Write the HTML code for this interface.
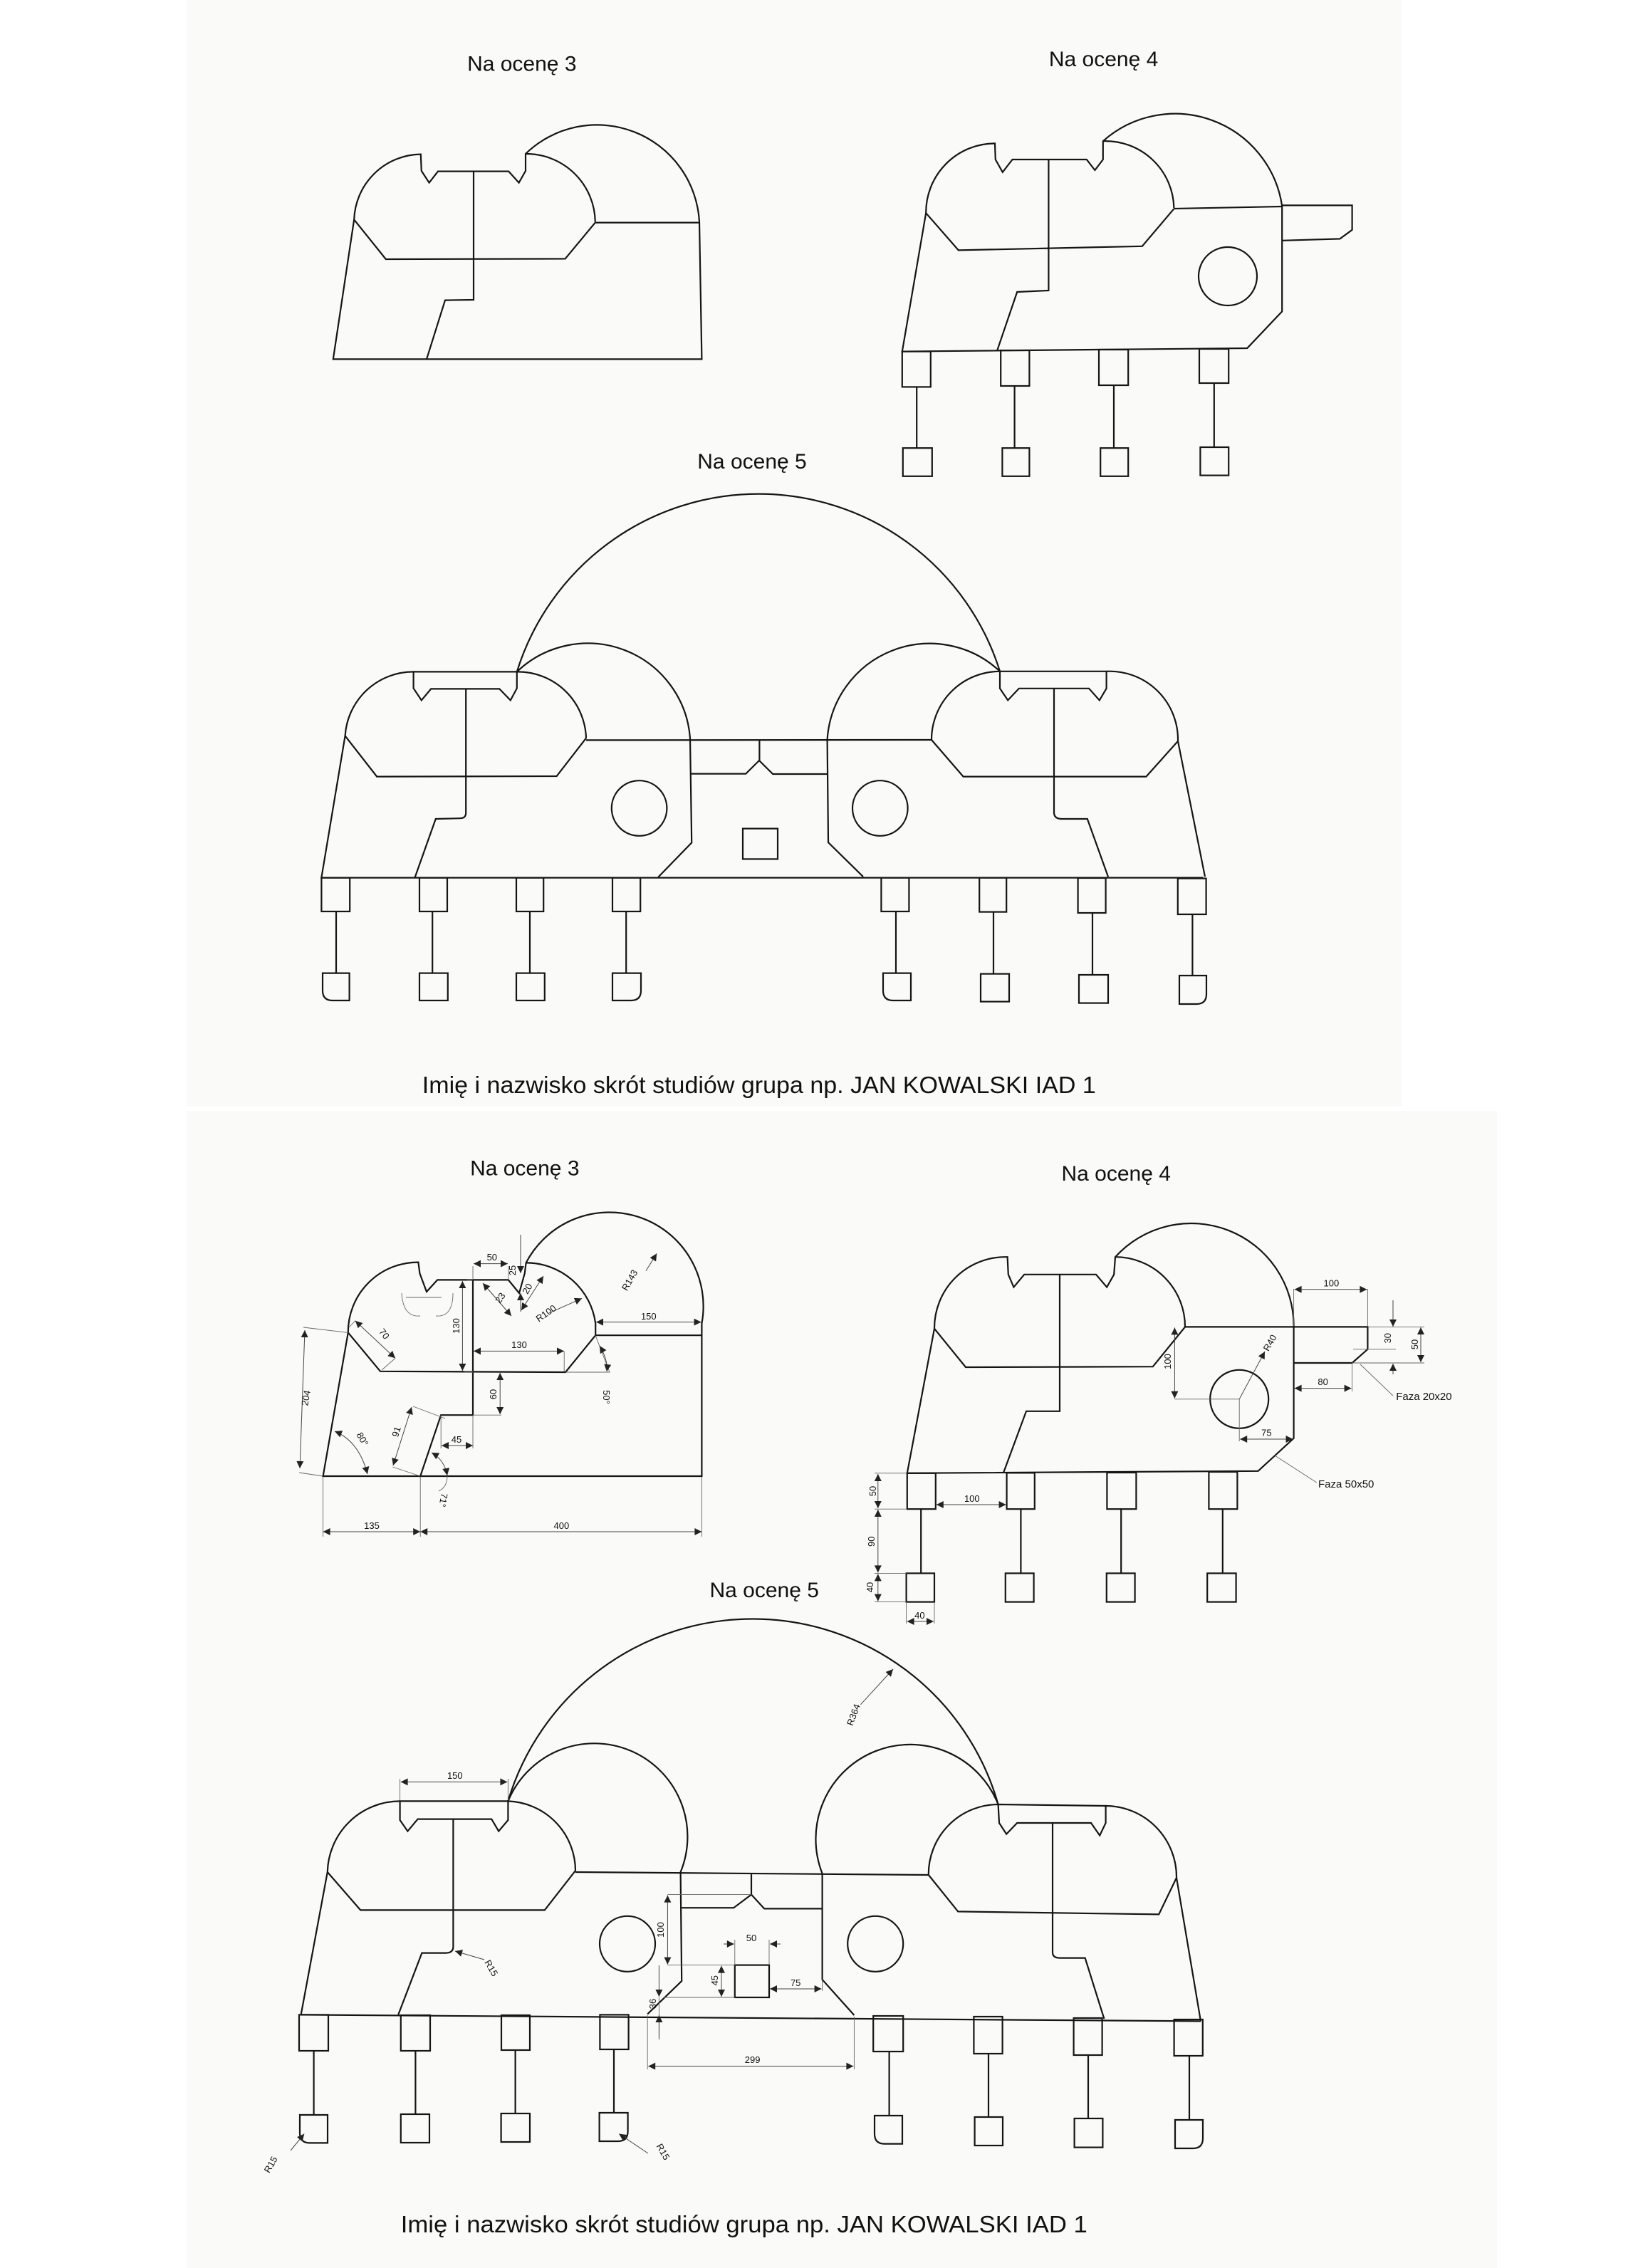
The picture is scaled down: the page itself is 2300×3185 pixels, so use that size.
<!DOCTYPE html>
<html><head><meta charset="utf-8"><style>
html,body{margin:0;padding:0;background:#fff;}
svg{display:block;}
text{font-family:"Liberation Sans",Arial,sans-serif;fill:#111;}
.m{fill:none;stroke:#151515;stroke-width:1.1;stroke-linejoin:miter;}
.d{fill:none;stroke:#666;stroke-width:0.45;}
.da{fill:none;stroke:#444;stroke-width:0.5;marker-start:url(#ar);marker-end:url(#ar);}
.dl{fill:none;stroke:#444;stroke-width:0.5;marker-end:url(#ar);}
.t{font-size:6.5px;}
.ti{font-size:15px;}
</style></head><body>
<svg width="2300" height="3185" viewBox="0 0 1150 1592.5" xmlns="http://www.w3.org/2000/svg">
<defs>
<marker id="ar" viewBox="0 0 10 10" refX="10" refY="5" markerWidth="7" markerHeight="5" markerUnits="userSpaceOnUse" orient="auto-start-reverse"><path d="M0,0 L10,5 L0,10 z" fill="#222"/></marker>
</defs>
<rect x="0" y="0" width="1150" height="1592.5" fill="#fff"/>
<rect x="131" y="0" width="853" height="777" fill="#fafaf9"/>
<rect x="131" y="780" width="920" height="812.5" fill="#fafaf9"/>

<!-- ===== TOP: Na ocenę 3 ===== -->
<text class="ti" x="366.4" y="49.7" text-anchor="middle">Na ocenę 3</text>
<path class="m" d="M233.9,252.2 L492.7,252.2 L491,155.8 A72,72 0 0 0 369,108 L369,120 L364.3,128.3 L357.1,120.3 L307.5,120.3 L301.3,128.3 L295.9,120 L295.4,108.3 A47.5,47.5 0 0 0 248.6,154.2 Z"/>
<path class="m" d="M369,108 A48.5,48.5 0 0 1 417.9,155.8 M417.9,156.3 L491,156.3 M248.6,154.2 L270.9,182 L396.8,181.7 L417.9,156.3 M332.5,120.3 L332.5,210.5 L312.5,210.8 L299.5,252.2"/>

<!-- ===== TOP: Na ocenę 4 ===== -->
<text class="ti" x="774.8" y="46.4" text-anchor="middle">Na ocenę 4</text>
<path class="m" d="M633.4,246.8 L875.6,244.5 L900.1,218.7 L900.1,144.6 A76,76 0 0 0 774.4,99.1 L774.4,112 L768.7,119.5 L762.9,112 L710.8,112 L703.9,120.9 L698.9,112 L698.5,100.7 A48.5,48.5 0 0 0 650.1,149.6 Z"/>
<path class="m" d="M900.1,144.2 L949.3,144.2 L949.3,161.4 L940.7,167.7 L900.1,168.9 M774.4,99.1 A48,48 0 0 1 824.2,146 M824.2,146.5 L900.1,145 M650.1,149.6 L672.9,175.7 L801.9,172.9 L824.2,146.6 M736.2,112 L736.2,204 L714.1,205 L700,246.4"/>
<circle class="m" cx="862" cy="194" r="20.5"/>
<g class="m">
<rect x="633.4" y="246.8" width="20" height="24.9"/><line x1="643.6" y1="271.7" x2="643.6" y2="314.6"/><rect x="633.9" y="314.6" width="20.5" height="19.8"/>
<rect x="702.6" y="246" width="20.1" height="25"/><line x1="712.3" y1="271" x2="712.3" y2="314.6"/><rect x="703.7" y="314.6" width="19" height="19.8"/>
<rect x="771.5" y="245.5" width="20.6" height="25"/><line x1="782" y1="270.5" x2="782" y2="314.6"/><rect x="772.6" y="314.6" width="19.5" height="19.8"/>
<rect x="842" y="245" width="20.6" height="24"/><line x1="852.4" y1="269" x2="852.4" y2="314"/><rect x="842.7" y="314" width="19.9" height="19.8"/>
</g>

<!-- ===== TOP: Na ocenę 5 ===== -->
<text class="ti" x="528" y="329" text-anchor="middle">Na ocenę 5</text>
<g class="m">
<path d="M225.7,616.3 L844.7,616.3"/>
<path d="M362.9,471.7 A177.6,177.6 0 0 1 702,471.4"/>
<path d="M225.6,616.7 L242.3,516.7 A48,48 0 0 1 290.3,471.7"/>
<path d="M290.3,471.7 L362.9,471.7 L362.9,483.3 L358.4,491.7 L350.6,483.7 L302.6,483.7 L295.9,491.7 L290.3,483.3 Z"/>
<path d="M362.9,471.7 A48,48 0 0 1 411.5,518.3"/>
<path d="M242.3,516.7 L264.6,545.3 L390.8,545 L411.5,518.3"/>
<path d="M362.9,471.7 A72,72 0 0 1 484.5,518.3 L485.6,591.7 L462.2,615.8"/>
<path d="M327.1,483.7 L327.1,570.8 Q327.1,574.6 322.7,574.6 L305.9,575 L291.4,615.8"/>
<path d="M411.5,519.7 L654,519.5 M484.5,543.3 L523.6,543.3 L533,534 L542.6,543.5 L580.8,543.5 M533.2,519.7 L533.2,534"/>
<path d="M580.8,519.5 A72,72 0 0 1 702,471.4 M580.8,519.5 L581.5,591.5 L606,615.6"/>
<path d="M702,471.4 L776.8,471.4 L776.8,483.4 L771.9,491.7 L764.5,483.4 L715.4,483.4 L707.6,491.7 L702,483.4 Z"/>
<path d="M776.8,471.4 A48,48 0 0 1 827,520.4 L846,615.6"/>
<path d="M702,471.4 A48,48 0 0 0 654,519.5"/>
<path d="M654,519.5 L676.3,545.3 L804.7,545.3 L827,520.4"/>
<path d="M740,483.4 L740,570.4 Q740,575 745.5,575 L763.4,575 L778,615.6"/>
<circle cx="448.8" cy="567.5" r="19.4"/><circle cx="617.9" cy="567.5" r="19.4"/>
<rect x="521.5" y="581.8" width="24.5" height="21.4"/>
<rect x="225.7" y="616.3" width="19.9" height="23.7"/><line x1="236" y1="640" x2="236" y2="683.3"/><path d="M226.5,683.3 L245.3,683.3 L245.3,702.5 L233.5,702.5 Q226.5,702.5 226.5,695.5 Z"/>
<rect x="294.5" y="616.3" width="19.5" height="23.7"/><line x1="303.6" y1="640" x2="303.6" y2="683.3"/><rect x="294.5" y="683.3" width="19.9" height="19.2"/>
<rect x="362.5" y="616.3" width="19.1" height="23.7"/><line x1="372" y1="640" x2="372" y2="683.3"/><rect x="362.5" y="683.3" width="19.9" height="19.2"/>
<rect x="430" y="616.3" width="19.6" height="23.7"/><line x1="439.6" y1="640" x2="439.6" y2="683.3"/><path d="M430,683.3 L450,683.3 L450,695.5 Q450,702.5 443,702.5 L430,702.5 Z"/>
<rect x="618.7" y="616.3" width="19.5" height="23.7"/><line x1="629" y1="640" x2="629" y2="683.3"/><path d="M620,683.3 L639.5,683.3 L639.5,702.5 L627,702.5 Q620,702.5 620,695.5 Z"/>
<rect x="687.6" y="616.3" width="19" height="24"/><line x1="697.5" y1="640.3" x2="697.5" y2="683.8"/><rect x="688.5" y="683.8" width="20" height="19.5"/>
<rect x="756.8" y="616.5" width="19.5" height="24.5"/><line x1="767" y1="641" x2="767" y2="684.5"/><rect x="757.5" y="684.5" width="20.5" height="19.8"/>
<rect x="826.9" y="616.8" width="19.9" height="25.2"/><line x1="837.2" y1="642" x2="837.2" y2="685"/><path d="M828,685 L847,685 L847,698 Q847,705 840,705 L828,705 Z"/>
</g>
<text x="296.4" y="767.5" font-size="16.5" textLength="473" lengthAdjust="spacingAndGlyphs">Imię i nazwisko skrót studiów grupa np. JAN KOWALSKI IAD 1</text>

<!-- ===== BOTTOM: Na ocenę 3 (dims) ===== -->
<text class="ti" x="368.4" y="825.3" text-anchor="middle">Na ocenę 3</text>
<path class="m" d="M226.8,1036.5 L492.7,1036.5 L492.7,929.3 A66,66 0 0 0 369.3,886.7 L368.4,894 L364.5,908 L356.9,898.7 L307.1,898.7 L299.5,907 L294.7,894.1 L293.7,886.3 A49,49 0 0 0 244.4,935.7 Z"/>
<path class="m" d="M369.3,886.7 A49,49 0 0 1 418.1,929.3 L418.1,937.6 M418.1,937.6 L492.7,937.6 M244.4,935.7 L267,962.9 L397,963.5 L418.1,937.6 M332,898.7 L332,993.6 L309.6,993.6 L295.1,1036.5"/>
<g>
<path class="d" d="M226.8,1037 L226.8,1079 M295.1,1037 L295.1,1079 M492.7,1037 L492.7,1079"/>
<path class="da" d="M226.8,1075.5 L295.1,1075.5"/><path class="da" d="M295.1,1075.5 L492.7,1075.5"/>
<text class="t" x="261" y="1073.5" text-anchor="middle">135</text>
<text class="t" x="394.2" y="1073.5" text-anchor="middle">400</text>
<path class="d" d="M226.8,1036.5 L210,1034 M244.4,935.7 L213,932"/>
<path class="da" d="M214,934 L210.5,1031"/>
<text class="t" transform="translate(217,982) rotate(-80)" text-anchor="middle">204</text>
<path class="da" d="M249.4,927.4 L277.5,953.7"/>
<path class="d" d="M249.4,927.4 L245,932 M277.5,953.7 L268,962"/>
<text class="t" transform="translate(268,938) rotate(52)" text-anchor="middle">70</text>
<path class="d" d="M332,898.7 L328,898.7 M332,963 L326,963"/>
<path class="da" d="M324.7,899.5 L324.7,962.5"/>
<text class="t" transform="translate(322.4,931) rotate(-90)" text-anchor="middle">130</text>
<path class="da" d="M332.5,948.7 L396,948.7"/>
<path class="d" d="M396.1,948.7 L396.1,963"/>
<text class="t" x="364.5" y="946.5" text-anchor="middle">130</text>
<path class="d" d="M332,993.6 L352,993.6"/>
<path class="da" d="M351.1,964 L351.1,993"/>
<text class="t" transform="translate(348.5,979) rotate(-90)" text-anchor="middle">60</text>
<path class="d" d="M309.6,993.6 L309.6,1017 M332,993.6 L332,1017"/>
<path class="da" d="M310,1015 L332,1015"/>
<text class="t" x="320.5" y="1013" text-anchor="middle">45</text>
<path class="d" d="M290,987.5 L312.5,996 M275.6,1030 L295.1,1036.5"/>
<path class="da" d="M289,988 L276,1029"/>
<text class="t" transform="translate(280.4,1006) rotate(-72)" text-anchor="middle">91</text>
<path class="da" d="M235,1005 Q252,1012 258,1035"/>
<text class="t" transform="translate(252.6,1011.6) rotate(60)" text-anchor="middle">80°</text>
<path class="da" d="M303,1020 Q312,1025 314,1036"/>
<path class="d" d="M314,1036.5 Q314,1044 308,1047"/>
<text class="t" transform="translate(309,1053) rotate(100)" text-anchor="middle">71°</text>
<path class="d" d="M418,937.6 L428,963.5 L397,963.5"/>
<path class="da" d="M421,945 Q427,955 426,963"/>
<text class="t" transform="translate(423.5,981) rotate(90)" text-anchor="middle">50°</text>
<path class="d" d="M332,889 L332,898 M356.9,889 L356.9,898"/>
<path class="da" d="M332.5,887.3 L356.5,887.3"/>
<text class="t" x="345.4" y="885" text-anchor="middle">50</text>
<path class="dl" d="M365.5,867 L365.5,894"/>
<path class="dl" d="M365.5,921 L365.5,908"/>
<text class="t" transform="translate(362,892) rotate(-90)" text-anchor="middle">25</text>
<path class="da" d="M339,901 L359,924"/>
<text class="t" transform="translate(353,912.6) rotate(-55)" text-anchor="middle">23</text>
<path class="da" d="M381.5,896 L366,920"/>
<text class="t" transform="translate(372.2,906) rotate(-60)" text-anchor="middle">20</text>
<path class="dl" d="M385.6,921.9 L408.5,911.7"/>
<text class="t" transform="translate(384.6,924) rotate(-35)" text-anchor="middle">R100</text>
<path class="dl" d="M453.5,892.3 L461.1,880.2"/>
<text class="t" transform="translate(444,900) rotate(-60)" text-anchor="middle">R143</text>
<path class="da" d="M418.5,928.3 L492.3,928.3"/>
<text class="t" x="455.4" y="926.5" text-anchor="middle">150</text>
<path class="d" d="M285,911 L310,911 M282,908 Q283,925 295,924 M318,908 Q318,925 306,924"/>
</g>

<!-- ===== BOTTOM: Na ocenę 4 (dims) ===== -->
<text class="ti" x="783.6" y="829" text-anchor="middle">Na ocenę 4</text>
<path class="m" d="M636.9,1034.4 L883.3,1032.9 L908.3,1009.9 L908.3,931.7 A72,72 0 0 0 783,882.6 L782.1,894.9 L777.1,903.8 L769.5,894.9 L719.1,894.9 L711.7,903.8 L707.9,894.9 L707.3,882.6 A50,50 0 0 0 656,932.9 Z"/>
<path class="m" d="M908.3,931.7 L960.2,931.7 L960.2,947.4 L949.3,957 L908.3,957 M832,931.7 L908.3,931.7 M783,882.6 A49,49 0 0 1 832,931.7 M656,932.9 L678,960 L809.4,959.6 L832,931.7 M744,894.9 L744,990.9 L720.5,990.9 L704.4,1034.4"/>
<circle class="m" cx="870.1" cy="982.4" r="20.5"/>
<g class="m">
<rect x="636.9" y="1034.4" width="20" height="25.2"/><line x1="646.6" y1="1059.6" x2="646.6" y2="1104.7"/><rect x="636.3" y="1104.7" width="19.7" height="20.1"/>
<rect x="706.8" y="1034.2" width="19.6" height="25.4"/><line x1="716.7" y1="1059.6" x2="716.7" y2="1104.7"/><rect x="705.9" y="1104.7" width="19.9" height="20.1"/>
<rect x="777.2" y="1034" width="20.5" height="25.6"/><line x1="787.1" y1="1059.6" x2="787.1" y2="1104.7"/><rect x="776.9" y="1104.7" width="19.9" height="20.1"/>
<rect x="848.7" y="1033.5" width="20" height="26.1"/><line x1="858.4" y1="1059.6" x2="858.4" y2="1104.7"/><rect x="847.6" y="1104.7" width="20.2" height="20.1"/>
</g>
<g>
<path class="d" d="M960.2,905 L960.2,931 M908.3,905 L908.3,931"/>
<path class="da" d="M908.8,905.4 L959.7,905.4"/>
<text class="t" x="934.7" y="903.2" text-anchor="middle">100</text>
<path class="d" d="M960.2,931.7 L1000,931.7 M950,947.4 L980,947.4 M949,957 L1000,957"/>
<path class="dl" d="M978,913 L978,931.5"/><path class="dl" d="M978,965 L978,957.5"/>
<text class="t" transform="translate(976.5,939.6) rotate(-90)" text-anchor="middle">30</text>
<path class="da" d="M997.5,932 L997.5,956.5"/>
<text class="t" transform="translate(995.5,944) rotate(-90)" text-anchor="middle">50</text>
<path class="d" d="M955,958 L978,980"/>
<text x="980.1" y="983" font-size="7.5">Faza 20x20</text>
<path class="d" d="M949.3,957 L949.3,977"/>
<path class="da" d="M908.8,974.8 L948.8,974.8"/>
<text class="t" x="928.8" y="972.5" text-anchor="middle">80</text>
<path class="dl" d="M870.1,982.4 L888,949"/>
<text class="t" transform="translate(893.5,944) rotate(-60)" text-anchor="middle">R40</text>
<path class="d" d="M824.7,982.4 L870.1,982.4 L870.1,1012"/>
<path class="da" d="M824.7,932.2 L824.7,981.9"/>
<text class="t" transform="translate(822,956) rotate(-90)" text-anchor="middle">100</text>
<path class="da" d="M870.6,1010.5 L907.8,1010.5"/>
<text class="t" x="889.2" y="1008.3" text-anchor="middle">75</text>
<path class="d" d="M895,1022 L924.4,1041"/>
<text x="925.5" y="1044.5" font-size="7.5">Faza 50x50</text>
<path class="d" d="M614,1034.4 L636.9,1034.4 M614,1059.6 L636.9,1059.6 M614,1104.7 L636.3,1104.7 M614,1124.8 L636.3,1124.8 M636.3,1124.8 L636.3,1140 M656,1124.8 L656,1140"/>
<path class="da" d="M616.4,1035 L616.4,1059"/><path class="da" d="M616.4,1060 L616.4,1104.2"/><path class="da" d="M616.4,1105.2 L616.4,1124.3"/>
<text class="t" transform="translate(615,1047) rotate(-90)" text-anchor="middle">50</text>
<text class="t" transform="translate(614,1082.4) rotate(-90)" text-anchor="middle">90</text>
<text class="t" transform="translate(613,1114.5) rotate(-90)" text-anchor="middle">40</text>
<path class="da" d="M657.4,1056.5 L706.3,1056.5"/>
<text class="t" x="682.4" y="1054.5" text-anchor="middle">100</text>
<path class="da" d="M636.8,1138.5 L655.5,1138.5"/>
<text class="t" x="645.7" y="1136.5" text-anchor="middle">40</text>
</g>

<!-- ===== BOTTOM: Na ocenę 5 (dims) ===== -->
<text class="ti" x="536.6" y="1121.4" text-anchor="middle">Na ocenę 5</text>
<g class="m">
<path d="M211.3,1414.7 L843,1419.2"/>
<path d="M356.7,1264.7 A179.2,179.2 0 0 1 700.8,1267"/>
<path d="M211.3,1414.7 L229.9,1314.5 A51,51 0 0 1 280.8,1264.7"/>
<path d="M280.8,1264.7 L356.7,1264.7 L356.7,1278 L350.1,1285.8 L345.1,1277.3 L293.3,1277.3 L286.2,1285.8 L280.8,1278 Z"/>
<path d="M356.7,1264.7 A49,49 0 0 1 404,1313.5"/>
<path d="M229.9,1314.5 L253.1,1341.2 L382.4,1341.2 L404,1313.5"/>
<path d="M356.7,1264.7 A64,64 0 0 1 477.8,1314.5 L478.6,1391 L454.6,1414.2"/>
<path d="M404,1314.5 L651.9,1316.5 M527.5,1315.5 L527.5,1330.3 M478.6,1339.6 L515.1,1339.6 L527.5,1330.3 L536.6,1340.2 L577.3,1340.2"/>
<path d="M577.3,1315.5 A64,64 0 0 1 700.8,1267 M577.3,1315.5 L577.3,1390 L599.7,1415"/>
<path d="M700.8,1267 L776.3,1268 L776.3,1280 L772.1,1288.8 L766,1280 L714.1,1280 L706.6,1287.8 L701.5,1280 Z"/>
<path d="M776.3,1268 A50,50 0 0 1 826,1318.5 L843,1419.2"/>
<path d="M700.8,1267 A49,49 0 0 0 651.9,1316.5"/>
<path d="M651.9,1316.5 L672.6,1342.2 L813.6,1344.2 L826,1318.5"/>
<path d="M318.2,1277.3 L318.2,1366.9 Q318.2,1371.3 313,1371.3 L296.2,1371.3 L279.6,1414.7"/>
<path d="M739,1280 L739,1370.9 Q739,1374.8 744,1374.8 L761.8,1374.8 L775.2,1417.5"/>
<circle cx="440.5" cy="1364.9" r="19.5"/><circle cx="614.6" cy="1364.9" r="19.5"/>
<rect x="515.9" y="1379.8" width="24.1" height="22.7"/>
<rect x="210" y="1414.7" width="20.5" height="25.3"/><line x1="220.3" y1="1440" x2="220.3" y2="1485"/><path d="M210.5,1485 L230,1485 L230,1504.7 L217.5,1504.7 Q210.5,1504.7 210.5,1497.7 Z"/>
<rect x="281.4" y="1415" width="20.6" height="25"/><line x1="291.7" y1="1440" x2="291.7" y2="1484.5"/><rect x="281.4" y="1484.5" width="20.1" height="20"/>
<rect x="352" y="1415" width="20" height="24.5"/><line x1="361.8" y1="1439.5" x2="361.8" y2="1484"/><rect x="351.8" y="1484" width="20.2" height="20"/>
<rect x="421.2" y="1414.7" width="20.1" height="24.3"/><line x1="431" y1="1439" x2="431" y2="1483.5"/><path d="M420.8,1483.5 L440.8,1483.5 L440.8,1496.5 Q440.8,1503.5 433.8,1503.5 L420.8,1503.5 Z"/>
<rect x="613.1" y="1415.5" width="21" height="25"/><line x1="624.3" y1="1440.5" x2="624.3" y2="1485.5"/><path d="M614,1485.5 L633.5,1485.5 L633.5,1505.3 L621,1505.3 Q614,1505.3 614,1498.3 Z"/>
<rect x="683.7" y="1416" width="20.1" height="26"/><line x1="694" y1="1442" x2="694" y2="1486.5"/><rect x="684.3" y="1486.5" width="19.7" height="20"/>
<rect x="753.8" y="1417" width="20" height="26"/><line x1="764" y1="1443" x2="764" y2="1487.5"/><rect x="754.3" y="1487.5" width="19.9" height="20.3"/>
<rect x="824.3" y="1418" width="20.1" height="25.5"/><line x1="835" y1="1443.5" x2="835" y2="1488.5"/><path d="M825,1488.5 L844.5,1488.5 L844.5,1501.5 Q844.5,1508.5 837.5,1508.5 L825,1508.5 Z"/>
</g>
<g>
<path class="d" d="M280.8,1264 L280.8,1249 M356.7,1264 L356.7,1249"/>
<path class="da" d="M281.3,1251.2 L356.2,1251.2"/>
<text class="t" x="319.4" y="1249" text-anchor="middle">150</text>
<path class="dl" d="M604.2,1196.9 L627,1172"/>
<text class="t" transform="translate(601.3,1204.8) rotate(-70)" text-anchor="middle">R364</text>
<path class="d" d="M468.7,1330.3 L527.5,1330.3 M468.7,1379.8 L516,1379.8 M466,1402.5 L516,1402.5 M540,1379.8 L540,1362 M515.9,1379.8 L515.9,1362 M577.3,1390 L577.3,1398"/>
<path class="da" d="M468.7,1330.8 L468.7,1379.3"/>
<text class="t" transform="translate(466,1355) rotate(-90)" text-anchor="middle">100</text>
<path class="dl" d="M508,1365 L515.4,1365"/><path class="dl" d="M548,1365 L540.5,1365"/>
<text class="t" x="527.5" y="1363" text-anchor="middle">50</text>
<path class="da" d="M506.5,1380.3 L506.5,1402"/>
<text class="t" transform="translate(504,1390.6) rotate(-90)" text-anchor="middle">45</text>
<path class="da" d="M540.5,1396.5 L576.8,1396.5"/>
<text class="t" x="558.6" y="1394.5" text-anchor="middle">75</text>
<path class="dl" d="M340,1376 L319.5,1370"/>
<text class="t" transform="translate(343,1383) rotate(60)" text-anchor="middle">R15</text>
<path class="d" d="M462.7,1402.5 L462.7,1430"/>
<path class="dl" d="M462.7,1380 L462.7,1402"/><path class="dl" d="M462.7,1432 L462.7,1415"/>
<text class="t" transform="translate(460.5,1407) rotate(-90)" text-anchor="middle">36</text>
<path class="d" d="M454.6,1415 L454.6,1453 M599.7,1416 L599.7,1453"/>
<path class="da" d="M455.1,1450.8 L599.2,1450.8"/>
<text class="t" x="528.3" y="1448.5" text-anchor="middle">299</text>
<path class="dl" d="M204,1510 L213.6,1498.3"/>
<text class="t" transform="translate(192,1521) rotate(-60)" text-anchor="middle">R15</text>
<path class="dl" d="M455,1512 L434.6,1498.3"/>
<text class="t" transform="translate(463.6,1512) rotate(60)" text-anchor="middle">R15</text>
</g>
<text x="281.4" y="1567.5" font-size="16.5" textLength="482" lengthAdjust="spacingAndGlyphs">Imię i nazwisko skrót studiów grupa np. JAN KOWALSKI IAD 1</text>
</svg>
</body></html>
